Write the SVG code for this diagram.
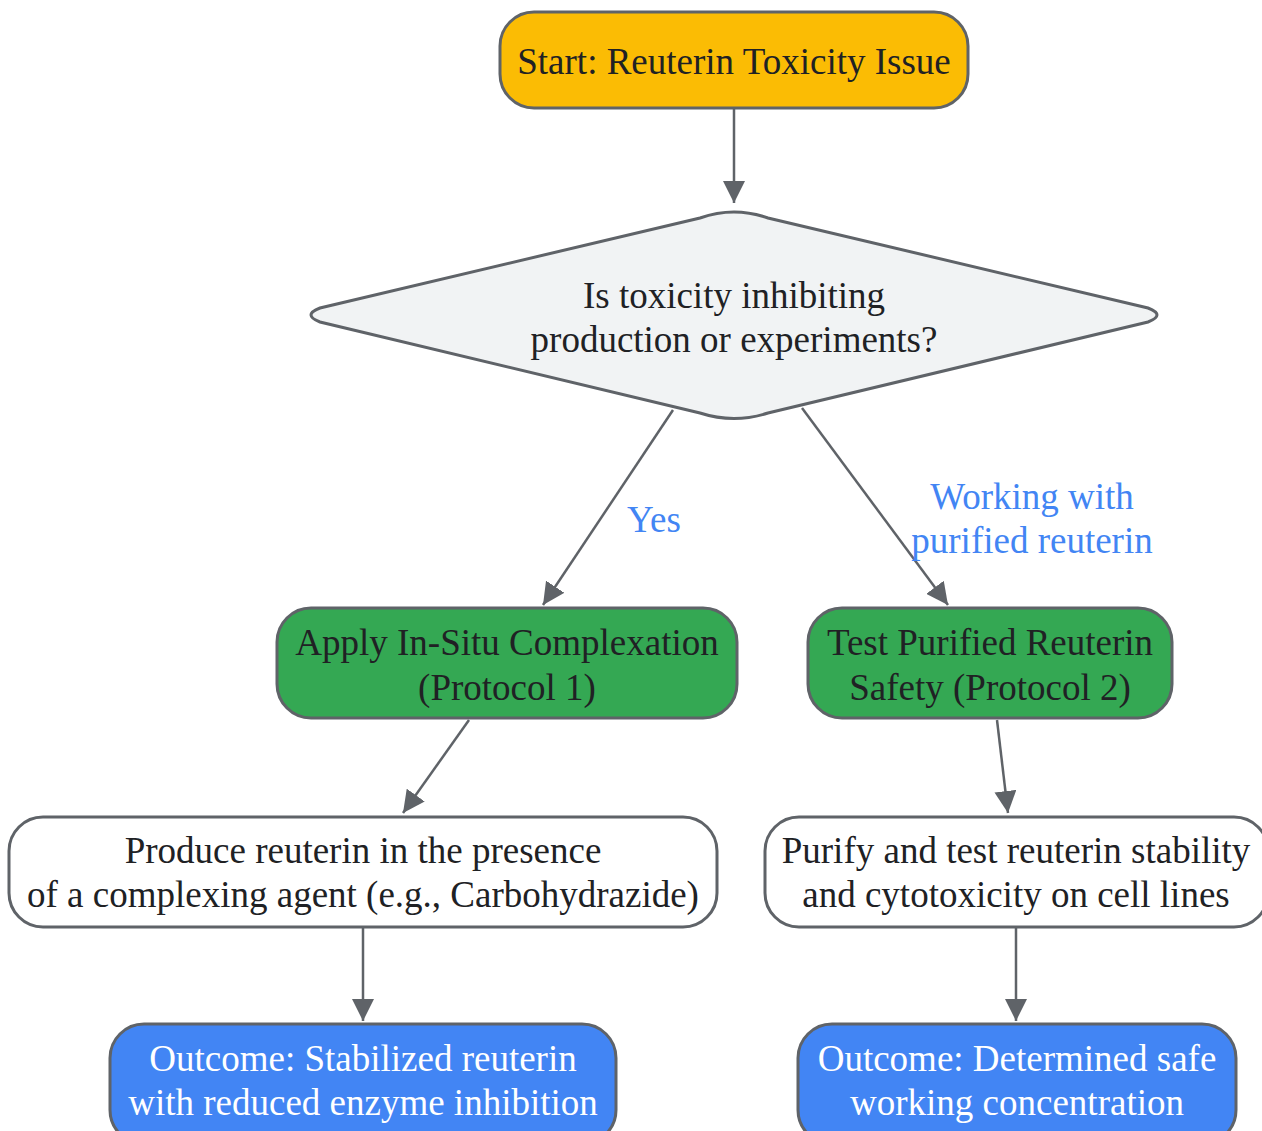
<svg xmlns="http://www.w3.org/2000/svg" width="1262" height="1131" viewBox="0 0 1262 1131">
<defs>
<style>
.n{stroke:#5f6368;stroke-width:3}
.t{font-family:"Liberation Serif","Times New Roman",serif;font-size:37px;text-anchor:middle}
.dk{fill:#202124}
.wt{fill:#ffffff}
.lb{fill:#4285f4}
.e{stroke:#5f6368;stroke-width:2.5;fill:none;marker-end:url(#ah)}
</style>
<marker id="ah" viewBox="0 0 22 22" refX="22" refY="11" markerWidth="22" markerHeight="22" markerUnits="userSpaceOnUse" orient="auto">
<path d="M0,0 L22,11 L0,22 z" fill="#5f6368"/>
</marker>
</defs>
<rect width="1262" height="1131" fill="#ffffff"/>
<g id="edges">
<path d="M734,108 L734,203" class="e"/>
<path d="M673,410 L543,605" class="e"/>
<path d="M802,408 L948,605" class="e"/>
<path d="M469,720 L403,813" class="e"/>
<path d="M997,720 L1008,813" class="e"/>
<path d="M363,927 L363,1021" class="e"/>
<path d="M1016,927 L1016,1021" class="e"/>
<text x="654" y="532" class="t lb">Yes</text>
<text x="1032" y="509" class="t lb">Working with</text>
<text x="1032" y="553" class="t lb">purified reuterin</text>
</g>
<g id="start">
<rect x="500" y="12" width="468" height="96" rx="34" fill="#fbbc04" class="n"/>
<text x="734" y="74" class="t dk">Start: Reuterin Toxicity Issue</text>
</g>
<g id="decision">
<path d="M700,218 Q734,206 768,218 L1148,308 Q1166,315 1148,322 L768,413 Q734,424 700,413 L320,322 Q302,315 320,308 Z" fill="#f1f3f4" class="n"/>
<text x="734" y="308" class="t dk">Is toxicity inhibiting</text>
<text x="734" y="352" class="t dk">production or experiments?</text>
</g>
<g id="protocol1">
<rect x="277" y="608" width="460" height="110" rx="34" fill="#34a853" class="n"/>
<text x="507" y="655" class="t dk">Apply In-Situ Complexation</text>
<text x="507" y="700" class="t dk">(Protocol 1)</text>
</g>
<g id="protocol2">
<rect x="808" y="608" width="364" height="110" rx="34" fill="#34a853" class="n"/>
<text x="990" y="655" class="t dk">Test Purified Reuterin</text>
<text x="990" y="700" class="t dk">Safety (Protocol 2)</text>
</g>
<g id="produce">
<rect x="9" y="817" width="708" height="110" rx="34" fill="#ffffff" class="n"/>
<text x="363" y="863" class="t dk">Produce reuterin in the presence</text>
<text x="363" y="907" class="t dk">of a complexing agent (e.g., Carbohydrazide)</text>
</g>
<g id="purify">
<rect x="765" y="817" width="503" height="110" rx="34" fill="#ffffff" class="n"/>
<text x="1016" y="863" class="t dk">Purify and test reuterin stability</text>
<text x="1016" y="907" class="t dk">and cytotoxicity on cell lines</text>
</g>
<g id="outcome1">
<rect x="110" y="1024" width="506" height="120" rx="34" fill="#4285f4" class="n"/>
<text x="363" y="1071" class="t wt">Outcome: Stabilized reuterin</text>
<text x="363" y="1115" class="t wt">with reduced enzyme inhibition</text>
</g>
<g id="outcome2">
<rect x="798" y="1024" width="438" height="120" rx="34" fill="#4285f4" class="n"/>
<text x="1017" y="1071" class="t wt">Outcome: Determined safe</text>
<text x="1017" y="1115" class="t wt">working concentration</text>
</g>
</svg>
